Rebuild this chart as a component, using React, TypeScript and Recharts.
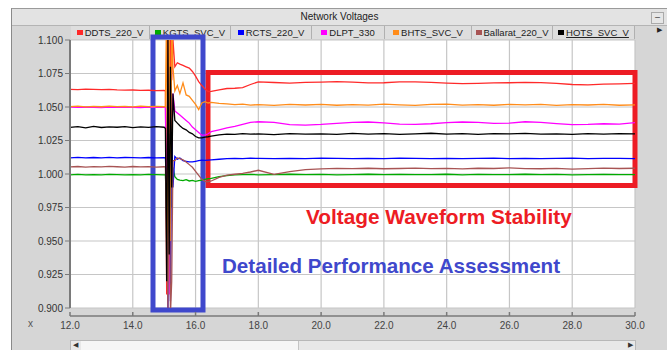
import React from 'react';
import { LineChart, Line, XAxis, YAxis, CartesianGrid, ReferenceArea } from 'recharts';

// sample times (s): steady pre-fault, fault transient, post-fault recovery
const TIME = [
  12, 12.25, 12.5, 12.75, 13, 13.25, 13.5, 13.75, 14, 14.25, 14.5, 14.75, 15,
  15.04, 15.08, 15.12, 15.16, 15.2, 15.24, 15.28, 15.34, 15.42, 15.5, 15.6, 15.7, 15.8, 15.9, 16, 16.1, 16.2, 16.3, 16.4,
  16.5, 16.75, 17, 17.25, 17.5, 17.75, 18, 18.5, 19, 19.5, 20, 20.5, 21, 21.5, 22, 22.5, 23, 23.5, 24, 24.5, 25, 25.5,
  26, 26.5, 27, 27.5, 28, 28.5, 29, 29.5, 30,
];

const DDTS_220_V = [
  1.0632, 1.063, 1.0634, 1.0631, 1.0629, 1.0632, 1.0628, 1.0626, 1.0627, 1.0624, 1.0625, 1.0622, 1.0623,
  1.062, 0.91, 1.13, 0.93, 1.12, 1.07, 1.1, 1.08, 1.083, 1.082, 1.081, 1.08, 1.079, 1.0765, 1.073, 1.069, 1.066, 1.0635, 1.0615,
  1.0616, 1.0628, 1.0638, 1.064, 1.0645, 1.0668, 1.0688, 1.0683, 1.0678, 1.0684, 1.0686, 1.0689, 1.0685, 1.068, 1.0681, 1.0687,
  1.0688, 1.0684, 1.0678, 1.0674, 1.0677, 1.068, 1.0681, 1.0684, 1.0682, 1.0677, 1.0668, 1.0665, 1.067, 1.0672, 1.0676,
];
const KGTS_SVC_V = [
  0.9994, 0.9997, 0.9993, 0.9996, 0.9994, 0.9997, 0.9995, 0.9993, 0.9996, 0.9994, 0.9997, 0.9995, 0.9994,
  0.9995, 0.97, 1.03, 0.96, 1.02, 0.975, 1.005, 0.998, 0.996, 0.9955, 0.995, 0.9958, 0.9948, 0.9952, 0.9945, 0.995, 0.9955, 0.996, 0.9965,
  0.9968, 0.998, 0.9988, 0.9993, 0.9995, 0.9997, 0.9994, 0.9996, 0.9998, 0.9995, 0.9997, 0.9994, 0.9996, 0.9998, 0.9995, 0.9997,
  0.9995, 0.9996, 0.9998, 0.9994, 0.9997, 0.9995, 0.9996, 0.9998, 0.9995, 0.9997, 0.9994, 0.9996, 0.9997, 0.9995, 0.9996,
];
const RCTS_220_V = [
  1.0121, 1.0124, 1.012, 1.0123, 1.0121, 1.0124, 1.012, 1.0123, 1.0122, 1.012, 1.0123, 1.0121, 1.0122,
  1.012, 0.99, 0.9, 1.04, 0.905, 1.03, 0.99, 1.013, 1.011, 1.012, 1.01, 1.0095, 1.009, 1.009, 1.0095, 1.01, 1.0104, 1.0102, 1.0104,
  1.0106, 1.011, 1.0114, 1.0117, 1.0115, 1.0118, 1.0116, 1.0114, 1.0117, 1.0115, 1.0118, 1.0116, 1.0114, 1.0117, 1.0115, 1.0118,
  1.0116, 1.0114, 1.0117, 1.0115, 1.0116, 1.0118, 1.0115, 1.0117, 1.0114, 1.0116, 1.0118, 1.0115, 1.0117, 1.0116, 1.0115,
];
const DLPT_330 = [
  1.0499, 1.0497, 1.05, 1.0498, 1.0496, 1.0499, 1.0497, 1.05, 1.0498, 1.0496, 1.0499, 1.0497, 1.0498,
  1.05, 0.96, 1.08, 0.91, 1.07, 1.02, 1.06, 1.047, 1.0455, 1.044, 1.042, 1.04, 1.038, 1.035, 1.033, 1.031, 1.029, 1.029, 1.03,
  1.0316, 1.033, 1.0345, 1.0355, 1.037, 1.0385, 1.039, 1.0385, 1.0368, 1.0365, 1.037, 1.0378, 1.0385, 1.0388, 1.0382, 1.0372,
  1.037, 1.0375, 1.0383, 1.0388, 1.0386, 1.0378, 1.038, 1.039, 1.0385, 1.0376, 1.0368, 1.037, 1.0375, 1.0372, 1.0383,
];
const BHTS_SVC_V = [
  1.0503, 1.0506, 1.0501, 1.0505, 1.0502, 1.0507, 1.0503, 1.0505, 1.0501, 1.0506, 1.0503, 1.0505, 1.0502,
  1.05, 1.13, 0.92, 1.12, 0.95, 1.12, 1.08, 1.062, 1.066, 1.06, 1.068, 1.059, 1.058, 1.055, 1.052, 1.048, 1.053, 1.054, 1.053,
  1.0535, 1.0527, 1.0523, 1.0517, 1.0521, 1.0514, 1.0518, 1.0512, 1.0519, 1.0515, 1.052, 1.0513, 1.0518, 1.0514, 1.0521, 1.0516,
  1.0512, 1.0519, 1.0522, 1.0514, 1.0517, 1.0513, 1.0519, 1.0516, 1.052, 1.0512, 1.0518, 1.0515, 1.0519, 1.0513, 1.0516,
];
const BALLARAT_220_V = [
  1.0053, 1.0056, 1.0052, 1.0055, 1.0053, 1.0057, 1.0054, 1.0052, 1.0056, 1.0053, 1.0055, 1.0052, 1.0054,
  1.005, 0.95, 0.9, 1.03, 0.895, 0.92, 1.01, 1.01, 1.012, 1.0115, 1.0105, 1.009, 1.007, 1.005, 1.002, 0.999, 0.996, 0.9945, 0.9942,
  0.9948, 0.9975, 0.9992, 0.9998, 1.0005, 1.0015, 1.0028, 0.9997, 1.0018, 1.0032, 1.0038, 1.0042, 1.004, 1.0043, 1.0039, 1.0041,
  1.0044, 1.004, 1.0042, 1.0038, 1.0043, 1.0041, 1.0046, 1.004, 1.0039, 1.0042, 1.0037, 1.004, 1.0044, 1.0041, 1.0043,
];
const HOTS_SVC_V = [
  1.0348, 1.0353, 1.0345, 1.0355, 1.0347, 1.0352, 1.0349, 1.0354, 1.0346, 1.0351, 1.0348, 1.0353, 1.0349,
  1.034, 0.92, 1.1, 0.94, 1.08, 0.99, 1.06, 1.04, 1.038, 1.036, 1.034, 1.033, 1.031, 1.03, 1.028, 1.027, 1.027, 1.0275, 1.0278,
  1.0282, 1.0292, 1.0298, 1.0295, 1.0301, 1.0297, 1.0299, 1.0294, 1.0302, 1.0297, 1.03, 1.0295, 1.0303, 1.0298, 1.0301, 1.0296,
  1.03, 1.0304, 1.0297, 1.0301, 1.0296, 1.0302, 1.0299, 1.0303, 1.0297, 1.03, 1.0295, 1.0301, 1.0298, 1.0302, 1.0299,
];

const X_TICKS = [12, 14, 16, 18, 20, 22, 24, 26, 28, 30];
const Y_TICKS = [0.9, 0.925, 0.95, 0.975, 1.0, 1.025, 1.05, 1.075, 1.1];

const SERIES = [
  { key: 'DDTS_220_V', color: '#ff2a2a', values: DDTS_220_V },
  { key: 'KGTS_SVC_V', color: '#00aa00', values: KGTS_SVC_V },
  { key: 'RCTS_220_V', color: '#0000ff', values: RCTS_220_V },
  { key: 'DLPT_330', color: '#ff00ff', values: DLPT_330 },
  { key: 'BHTS_SVC_V', color: '#ff8c1a', values: BHTS_SVC_V },
  { key: 'Ballarat_220_V', color: '#a85454', values: BALLARAT_220_V },
  { key: 'HOTS_SVC_V', color: '#000000', values: HOTS_SVC_V },
];

// highlight boxes drawn over the plot (data units)
const FAULT_BOX = { x1: 14.644, x2: 16.237, y1: 0.8985, y2: 1.1022 };
const STABLE_BOX = { x1: 16.396, x2: 30, y1: 0.9914, y2: 1.0757 };

const LEGEND_WIDTHS = [79, 81, 81, 73, 87, 81, 82];

const chartData = TIME.map((t, i) => {
  const row: Record<string, number> = { t };
  SERIES.forEach(s => { row[s.key] = s.values[i]; });
  return row;
});

const XTick = ({ x, y, payload }: any) => (
  <g>
    <line x1={x} x2={x} y1={y - 4} y2={y} stroke="#7a7a7a" strokeWidth={1.5} />
    <text x={x} y={y + 13} textAnchor="middle" fontSize={10} fill="#444">
      {Number(payload.value).toFixed(1)}
    </text>
  </g>
);

export default function App() {
  return (
    <div style={{
      position: 'absolute', left: 0, top: 0, width: 667, height: 350, overflow: 'hidden',
      background: '#fff', fontFamily: '"Liberation Sans", Arial, sans-serif',
    }}>
      {/* window frame */}
      <div style={{
        position: 'absolute', left: 11, top: 8, width: 656, height: 342, background: '#d6d6d6',
        borderLeft: '1px solid #8a8a8a', borderTop: '1px solid #9a9a9a',
      }} />
      <div style={{
        position: 'absolute', left: 12, top: 9, width: 655, height: 16, background: '#e3e3e3',
        borderBottom: '1px solid #b4b4b4', fontSize: 10, color: '#222', lineHeight: '16px', textAlign: 'center',
      }}>
        Network Voltages
      </div>
      <div style={{
        position: 'absolute', left: 651, top: 12, width: 11, height: 10, background: '#e6e6e6',
        border: '1px solid #aaa', fontSize: 9, lineHeight: '9px', textAlign: 'center', color: '#333',
      }}>–</div>
      <div style={{ position: 'absolute', left: 657, top: 26, fontSize: 7, color: '#222' }}>▶</div>

      {/* legend strip */}
      <div style={{ position: 'absolute', left: 71, top: 26, height: 13, display: 'flex', background: '#dedede' }}>
        {SERIES.map((s, i) => (
          <div key={s.key} style={{
            width: LEGEND_WIDTHS[i], height: 13, boxSizing: 'border-box', borderRight: '1px solid #b0b0b0',
            display: 'flex', alignItems: 'center', justifyContent: 'center', fontSize: 9.5, color: '#222',
            whiteSpace: 'nowrap', overflow: 'hidden',
          }}>
            <span style={{ width: 6, height: 5, background: s.color, marginRight: 2, display: 'inline-block', flexShrink: 0 }} />
            <span style={{ textDecoration: s.key === 'HOTS_SVC_V' ? 'underline' : 'none' }}>{s.key}</span>
          </div>
        ))}
      </div>

      {/* bottom scroll bar */}
      <div style={{
        position: 'absolute', left: 70, top: 340, width: 566, height: 11, background: '#e8e8e8',
        border: '1px solid #b8b8b8', boxSizing: 'border-box',
      }}>
        <div style={{ position: 'absolute', left: 10, top: 0, width: 217, height: 9, background: '#f6f6f6', borderRight: '1px solid #c4c4c4' }} />
        <div style={{ position: 'absolute', left: 2, top: 0, fontSize: 7, color: '#333' }}>◀</div>
        <div style={{ position: 'absolute', right: 2, top: 0, fontSize: 7, color: '#333' }}>▶</div>
      </div>
      <div style={{ position: 'absolute', left: 28, top: 318, fontSize: 10, color: '#555' }}>x</div>

      <div style={{ position: 'absolute', left: 0, top: 0 }}>
        <LineChart width={667} height={350} data={chartData} margin={{ top: 40, right: 32, bottom: 10, left: 10 }}>
          <CartesianGrid xAxisId="t" fill="#ffffff" stroke="#c6c6c6" strokeWidth={1.2} />
          <XAxis xAxisId="gap" dataKey="t" type="number" domain={[12, 30]} height={8}
            tick={false} axisLine={false} tickLine={false} />
          <XAxis xAxisId="t" dataKey="t" type="number" domain={[12, 30]} ticks={X_TICKS} height={24}
            axisLine={{ stroke: '#7a7a7a', strokeWidth: 1.5 }} tickLine={false} tickSize={0} tickMargin={0}
            tick={<XTick />} interval={0} />
          <YAxis type="number" domain={[0.9, 1.1]} ticks={Y_TICKS} allowDataOverflow width={60}
            axisLine={{ stroke: '#7a7a7a', strokeWidth: 2 }} tickLine={{ stroke: '#7a7a7a' }} tickSize={5} tickMargin={2}
            tick={{ fontSize: 10, fill: '#333' }} tickFormatter={(v: number) => v.toFixed(3)} interval={0} />
          {SERIES.map(s => (
            <Line key={s.key} xAxisId="t" dataKey={s.key} type="linear" stroke={s.color} strokeWidth={1.3}
              dot={false} activeDot={false} isAnimationActive={false} />
          ))}
          <ReferenceArea xAxisId="t" {...STABLE_BOX} fill="none" stroke="#ed1c24" strokeWidth={5} ifOverflow="visible" />
          <ReferenceArea xAxisId="t" {...FAULT_BOX} fill="none" stroke="#3f48cc" strokeWidth={5} ifOverflow="visible" />
        </LineChart>
      </div>

      <div style={{ position: 'absolute', left: 306, top: 207, fontSize: 20.8, lineHeight: '20px', fontWeight: 'bold', color: '#ed1c24', whiteSpace: 'nowrap' }}>
        Voltage Waveform Stability
      </div>
      <div style={{ position: 'absolute', left: 222, top: 256, fontSize: 20.6, lineHeight: '20px', fontWeight: 'bold', color: '#3f48cc', whiteSpace: 'nowrap' }}>
        Detailed Performance Assessment
      </div>
    </div>
  );
}
